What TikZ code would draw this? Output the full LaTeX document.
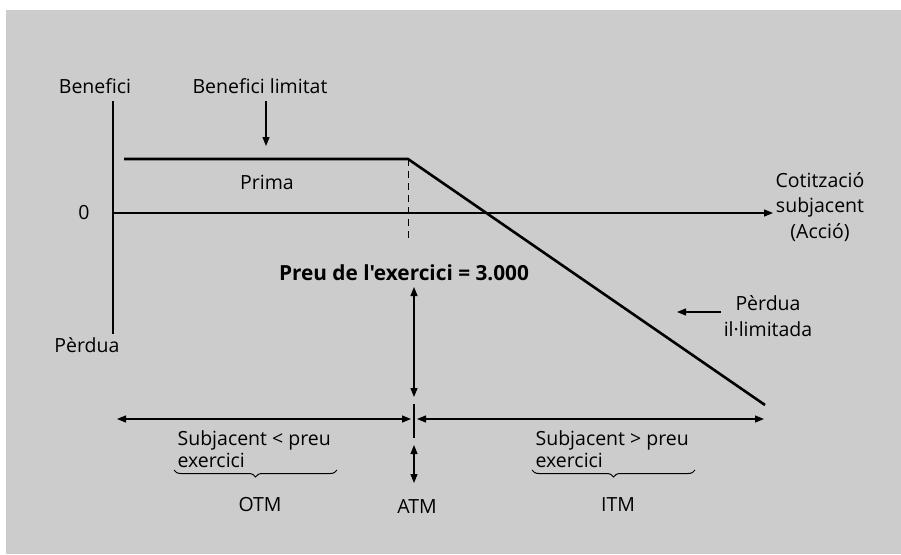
\documentclass[tikz,border=0pt]{standalone}
\usepackage{fontspec}
\setmainfont{Open Sans}[Ligatures=TeXOff]
\usetikzlibrary{arrows.meta,decorations.pathreplacing}
\definecolor{fons}{HTML}{CCCCCC}
\begin{document}
\begin{tikzpicture}[x=1pt,y=-1pt,font=\fontsize{19.5}{25.5}\selectfont,
  >={Triangle[length=9pt,width=7pt]},line width=1.2pt,
  gruix/.style={line width=2.6pt},
  clau/.style={decorate,decoration={brace,mirror,amplitude=7pt},line width=1pt}]
\useasboundingbox (0,0) rectangle (901,554);
\fill[fons] (6,10) rectangle (901,554);
\coordinate (dalt) at (113,101);
\coordinate (baix) at (113,334);
\coordinate (o) at (113,213);
\coordinate (fi) at (773,213);
\draw (dalt) -- (baix);
\draw[->] (o) -- (fi);
\node (ben) at (95,86) {Benefici};
\node (per) at (87,345) {Pèrdua};
\node (zero) at (84,213) {0};
\node[align=center] (cot) at (820,207) {Cotització\\subjacent\\(Acció)};
\coordinate (a) at (124,159);
\coordinate (k) at (408,159);
\coordinate (z) at (765,405);
\coordinate (kb) at (408,241);
\draw[gruix] (a) -- (k) -- (z);
\draw[line width=1pt,dash pattern=on 7pt off 5pt] (k) -- (kb);
\node (lim) at (260,86) {Benefici limitat};
\coordinate (lim1) at (266,101);
\coordinate (lim2) at (266,146);
\draw[->] (lim1) -- (lim2);
\node (prima) at (267,182) {Prima};
\node[font=\fontsize{20.8}{22}\selectfont\bfseries] (preu) at (404,273) {Preu de l'exercici = 3.000};
\coordinate (v1) at (414,287);
\coordinate (v2) at (414,397);
\draw[<->] (v1) -- (v2);
\coordinate (t1) at (414,404);
\coordinate (t2) at (414,438);
\draw (t1) -- (t2);
\coordinate (e1) at (117,419);
\coordinate (e2) at (411,419);
\coordinate (d1) at (417,419);
\coordinate (d2) at (764,419);
\draw[<->] (e1) -- (e2);
\draw[<->] (d1) -- (d2);
\coordinate (s1) at (414,445);
\coordinate (s2) at (414,483);
\draw[<->] (s1) -- (s2);
\node[align=center,font=\fontsize{19.5}{26}\selectfont] (pil) at (768,316) {Pèrdua\\il·limitada};
\coordinate (p1) at (721,312);
\coordinate (p2) at (677,312);
\draw[->] (p1) -- (p2);
\node[anchor=west,align=left,inner sep=0,font=\fontsize{19.5}{22}\selectfont] (otmt) at (177,449) {Subjacent < preu\\exercici};
\node[anchor=west,align=left,inner sep=0,font=\fontsize{19.5}{22}\selectfont] (itmt) at (535,449) {Subjacent > preu\\exercici};
\coordinate (b1) at (174,470);
\coordinate (b2) at (337,470);
\coordinate (b3) at (532,470);
\coordinate (b4) at (695,470);
\draw[clau] (b1) -- (b2);
\draw[clau] (b3) -- (b4);
\node (otm) at (260,505) {OTM};
\node (atm) at (417,507) {ATM};
\node (itm) at (618,505) {ITM};
\end{tikzpicture}
\end{document}
